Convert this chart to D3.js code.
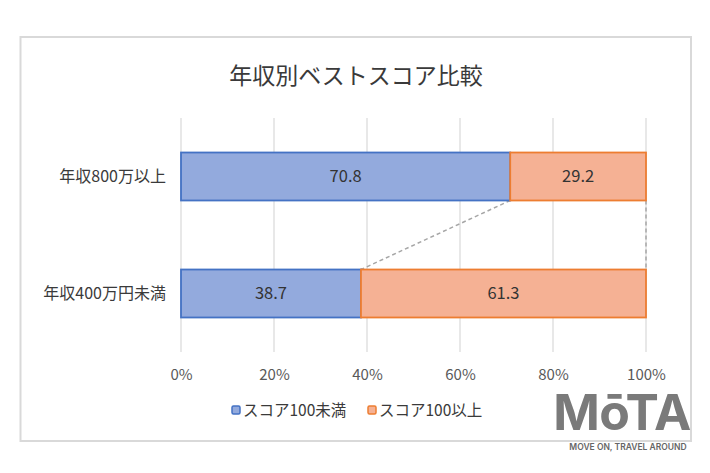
<!DOCTYPE html>
<html><head><meta charset="utf-8">
<script src="https://cdn.jsdelivr.net/npm/d3@7"></script>
<style>html,body{margin:0;padding:0;background:#fff;}</style>
</head><body>
<svg id="c" width="710" height="473"></svg>
<script>
const categories = ["年収800万以上", "年収400万円未満"];
const seriesNames = ["スコア100未満", "スコア100以上"];
const under100 = [70.8, 38.7];
const over100 = [29.2, 61.3];
const xTicks = [0, 20, 40, 60, 80, 100];
const title = "年収別ベストスコア比較";

const colors = {fill: ["#93AADD", "#F5B194"], stroke: ["#4472C4", "#ED7D31"]};
const font = "'Noto Sans CJK JP','Noto Sans',sans-serif";

const svg = d3.select("#c");
svg.append("rect").attr("x", 0).attr("y", 0).attr("width", 710).attr("height", 473).attr("fill", "#fff");
svg.append("rect").attr("x", 20.5).attr("y", 37).attr("width", 670.5).attr("height", 404)
  .attr("fill", "#fff").attr("stroke", "#d9d9d9").attr("stroke-width", 2);

svg.append("text").attr("x", 356).attr("y", 84).attr("text-anchor", "middle")
  .attr("font-family", font).attr("font-size", 23).attr("fill", "#3a3a3a").text(title);

const x = d3.scaleLinear().domain([0, 100]).range([181, 646]);
const y = d3.scaleBand().domain(categories).range([118, 352]).paddingInner(0.59).paddingOuter(0.295);

// gridlines
svg.append("g").selectAll("line").data(xTicks).join("line")
  .attr("x1", d => x(d)).attr("x2", d => x(d)).attr("y1", 118).attr("y2", 352)
  .attr("stroke", "#d9d9d9").attr("stroke-width", 1.2);

// axis tick labels
const axis = d3.axisBottom(x).tickValues(xTicks).tickFormat(d => d + "%").tickSize(0).tickPadding(0);
const ag = svg.append("g").attr("transform", "translate(0,369)").call(axis);
ag.select(".domain").remove();
ag.selectAll("text").attr("font-family", font).attr("font-size", 15).attr("fill", "#595959");

// category labels
svg.append("g").selectAll("text").data(categories).join("text")
  .attr("x", 166).attr("y", d => y(d) + y.bandwidth() / 2).attr("dy", "0.35em")
  .attr("text-anchor", "end").attr("font-family", font).attr("font-size", 16).attr("fill", "#3a3a3a")
  .text(d => d);

const stacked = categories.map((c, i) => [
  {cat: c, s: 0, x0: 0, x1: under100[i], v: under100[i]},
  {cat: c, s: 1, x0: under100[i], x1: under100[i] + over100[i], v: over100[i]}
]).flat();

// series lines
const lines = [
  [[under100[0], 0], [under100[1], 1]],
  [[under100[0] + over100[0], 0], [under100[1] + over100[1], 1]]
];
svg.append("g").selectAll("line").data(lines).join("line")
  .attr("x1", d => x(d[0][0])).attr("y1", y(categories[0]) + y.bandwidth())
  .attr("x2", d => x(d[1][0])).attr("y2", y(categories[1]))
  .attr("stroke", "#a6a6a6").attr("stroke-width", 1.5).attr("stroke-dasharray", "4,3");

svg.append("g").selectAll("rect").data(stacked).join("rect")
  .attr("x", d => x(d.x0)).attr("y", d => y(d.cat))
  .attr("width", d => x(d.x1) - x(d.x0)).attr("height", y.bandwidth())
  .attr("fill", d => colors.fill[d.s]).attr("stroke", d => colors.stroke[d.s]).attr("stroke-width", 1.8);

svg.append("g").selectAll("text").data(stacked).join("text")
  .attr("x", d => x((d.x0 + d.x1) / 2)).attr("y", d => y(d.cat) + y.bandwidth() / 2).attr("dy", "0.35em")
  .attr("text-anchor", "middle").attr("font-family", font).attr("font-size", 16.5).attr("fill", "#333")
  .text(d => d.v.toFixed(1));

// legend
const leg = svg.append("g");
const legX = [232, 368];
seriesNames.forEach((n, i) => {
  leg.append("rect").attr("x", legX[i]).attr("y", 406).attr("width", 8).attr("height", 8).attr("rx", 1.5)
    .attr("fill", colors.fill[i]).attr("stroke", colors.stroke[i]).attr("stroke-width", 1.5);
  leg.append("text").attr("x", legX[i] + 11).attr("y", 411).attr("dy", "0.35em")
    .attr("font-family", font).attr("font-size", 15.5).attr("fill", "#3a3a3a").text(n);
});

// watermark
svg.append("text").attr("x", 622).attr("y", 430).attr("text-anchor", "middle")
  .attr("font-family", "Inter, 'DejaVu Sans', sans-serif").attr("font-weight", 700).attr("font-size", 50)
  .attr("letter-spacing", -0.5).attr("fill", "#7a7a7a").text("MōTA");
svg.append("text").attr("x", 628).attr("y", 450).attr("text-anchor", "middle")
  .attr("font-family", "Inter, 'DejaVu Sans', sans-serif").attr("font-weight", 600).attr("font-size", 8.5)
  .attr("fill", "#666").text("MOVE ON, TRAVEL AROUND");
</script>
</body></html>
